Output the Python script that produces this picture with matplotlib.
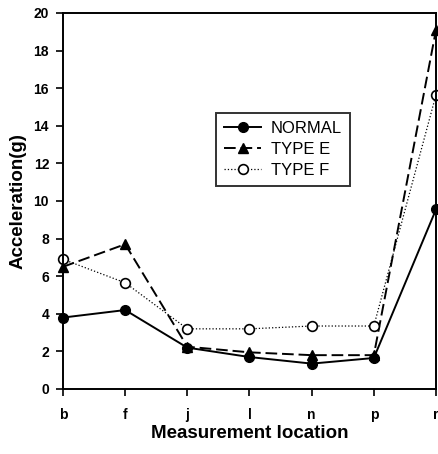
import matplotlib
matplotlib.use("Agg")
import matplotlib.pyplot as plt

plt.rcParams['font.family'] = ['Liberation Sans', 'DejaVu Sans']

locations = ['b', 'f', 'j', 'l', 'n', 'p', 'r']
normal = [3.8, 4.2, 2.2, 1.7, 1.35, 1.65, 9.55]
type_e = [6.5, 7.7, 2.25, 1.95, 1.8, 1.8, 19.1]
type_f = [6.9, 5.65, 3.2, 3.2, 3.35, 3.35, 15.65]

fig = plt.figure(figsize=(4.39, 4.54), dpi=100)
ax = fig.add_axes([63 / 439, 1 - 389 / 454, 373 / 439, 376 / 454])

x = list(range(len(locations)))
ax.plot(x, normal, '-', color='black', lw=1.4, marker='o', ms=7,
        mfc='black', mec='black', label='NORMAL', clip_on=False)
ax.plot(x, type_e, '--', color='black', lw=1.4, marker='^', ms=7,
        mfc='black', mec='black', label='TYPE E', dashes=(6, 2.5), clip_on=False)
ax.plot(x, type_f, ':', color='black', lw=0.9, marker='o', ms=7,
        mfc='white', mec='black', mew=1.2, label='TYPE F', clip_on=False)

ax.set_xlim(0, 6)
ax.set_ylim(0, 20)
ax.set_xticks(x)
ax.set_xticklabels(locations)
ax.set_yticks(range(0, 21, 2))
ax.tick_params(direction='out', length=5, width=1.2, labelsize=10)
ax.tick_params(axis='y', pad=5)
ax.tick_params(axis='x', pad=9)
for lab in ax.get_xticklabels() + ax.get_yticklabels():
    lab.set_fontweight('bold')
for s in ax.spines.values():
    s.set_linewidth(1.4)

ax.set_xlabel('Measurement location', fontsize=13.5, fontweight='bold', labelpad=2)
ax.set_ylabel('Acceleration(g)', fontsize=13.5, fontweight='bold', labelpad=5)

leg = ax.legend(loc='upper left', bbox_to_anchor=(0.41, 0.735), fontsize=12,
                frameon=True, fancybox=False, edgecolor='black',
                handlelength=2.2, borderpad=0.5, labelspacing=0.35,
                handletextpad=0.6, borderaxespad=0)
leg.get_frame().set_linewidth(1.4)

fig.savefig('out.png', dpi=100)
